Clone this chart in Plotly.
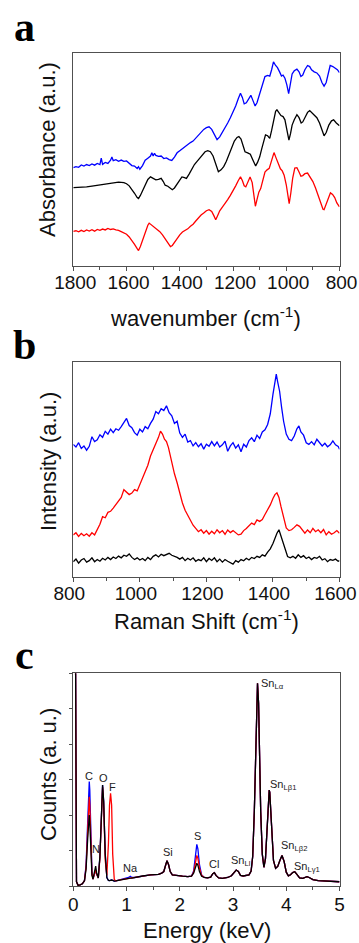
import plotly.graph_objects as go

W, H = 359, 943

# ---------------- Panel a : FTIR ----------------
a_blue_x = [1800,1790,1780,1770,1760,1750,1740,1730,1720,1710,1700,1695,1690,1680,1670,1660,1655,1650,1640,1630,1620,1610,1600,1590,1580,1570,1560,1555,1550,1540,1530,1520,1510,1505,1500,1495,1490,1480,1470,1460,1450,1440,1430,1420,1410,1400,1390,1380,1370,1360,1350,1340,1330,1320,1310,1300,1290,1280,1270,1260,1250,1240,1230,1220,1210,1200,1190,1180,1172,1165,1158,1150,1140,1133,1125,1117,1110,1100,1090,1080,1070,1062,1055,1048,1040,1033,1025,1018,1012,1005,998,991,985,978,970,960,952,945,938,930,920,912,905,895,885,875,866,858,850,842,835,825,815,808,800]
a_blue_y = [46.0,46.5,46.2,47.3,46.8,47.5,47.0,47.8,47.2,48.0,47.5,50.5,47.6,48.5,48.0,49.5,51.0,49.3,49.8,49.0,49.6,49.0,49.2,48.0,47.0,46.8,45.6,46.5,45.3,47.0,49.5,50.5,51.5,53.0,51.5,52.8,51.8,51.3,51.5,50.3,50.6,49.8,49.4,51.0,53.0,54.0,55.0,56.0,57.0,57.8,58.5,60.0,61.5,63.0,64.0,64.8,65.2,64.0,61.5,59.2,60.5,62.5,64.5,67.0,69.5,72.0,75.0,78.5,81.0,79.0,76.0,76.5,79.0,80.0,77.5,75.0,76.5,80.5,85.0,88.8,89.3,89.0,92.0,95.7,94.0,93.0,91.0,89.0,89.5,88.0,85.0,80.8,85.0,90.0,91.5,92.3,91.0,88.8,89.5,92.0,94.0,93.5,92.0,91.0,90.5,89.0,86.0,84.3,86.0,90.5,94.0,93.5,92.5,92.0,90.6]

a_black_x = [1800,1780,1760,1750,1730,1710,1690,1670,1650,1630,1610,1600,1590,1580,1570,1560,1555,1548,1540,1530,1520,1510,1500,1490,1480,1470,1462,1455,1445,1435,1428,1420,1410,1400,1392,1385,1375,1365,1355,1345,1335,1320,1305,1295,1285,1275,1268,1260,1255,1245,1235,1225,1215,1205,1195,1185,1178,1170,1162,1155,1145,1135,1125,1115,1108,1100,1092,1085,1078,1070,1062,1055,1048,1040,1035,1028,1020,1012,1005,998,990,984,978,970,960,952,944,938,930,920,912,905,895,885,875,866,858,850,840,830,822,812,800]
a_black_y = [36.7,36.8,36.6,37.0,37.4,37.8,38.3,38.6,39.0,39.2,39.0,38.5,37.5,36.0,34.0,32.0,31.5,33.0,35.0,38.0,40.5,41.7,41.0,40.3,40.5,41.0,39.5,37.8,37.3,36.2,35.7,36.5,38.5,40.5,41.7,41.5,41.0,43.0,45.5,47.5,49.0,51.5,53.5,54.0,53.5,51.5,48.5,45.0,44.1,45.0,46.5,49.0,52.5,56.0,58.5,60.2,60.6,59.5,56.5,53.5,53.0,52.3,49.5,46.8,48.5,51.0,55.0,59.0,61.4,61.0,59.8,63.5,68.0,72.5,73.2,72.0,70.5,70.0,68.5,64.0,59.0,62.0,66.0,68.5,70.9,69.5,67.0,67.5,69.5,72.0,72.8,72.0,70.5,69.5,67.0,63.5,61.0,62.5,66.0,68.0,68.5,67.0,65.7]

a_red_x = [1800,1790,1780,1770,1760,1750,1740,1730,1720,1710,1700,1690,1680,1670,1660,1650,1640,1630,1620,1610,1600,1590,1580,1570,1560,1555,1548,1540,1530,1520,1515,1505,1495,1485,1475,1465,1455,1445,1435,1428,1420,1410,1400,1390,1380,1370,1360,1350,1340,1330,1320,1310,1300,1290,1280,1272,1265,1258,1250,1240,1230,1220,1210,1200,1190,1180,1172,1165,1158,1152,1145,1136,1128,1122,1116,1110,1103,1096,1088,1080,1072,1064,1056,1046,1038,1030,1022,1015,1008,1000,994,989,983,976,968,960,952,945,938,930,920,912,900,890,880,870,862,858,850,842,834,826,818,810,800]
a_red_y = [16.1,16.4,15.9,16.6,16.0,16.8,16.3,16.9,16.2,17.0,16.6,17.2,16.8,17.5,17.0,17.3,16.8,16.6,16.0,15.5,14.8,13.5,12.0,10.0,8.0,7.1,9.0,12.0,15.5,19.0,20.0,19.0,17.8,17.0,16.0,14.5,12.5,11.0,9.0,9.5,11.0,13.0,14.5,15.8,16.5,17.3,18.5,19.5,21.0,22.5,23.8,24.7,25.8,26.3,25.5,23.5,21.6,23.5,25.8,27.5,29.0,31.0,33.0,35.0,37.5,40.0,41.7,40.0,37.5,37.0,39.5,41.7,39.0,33.0,27.9,31.0,34.5,36.2,40.5,44.0,45.0,45.7,49.0,53.1,50.5,48.0,45.5,44.5,42.5,38.0,32.0,29.1,34.0,41.0,45.8,46.0,44.0,42.0,42.3,43.2,43.5,42.0,39.5,36.5,33.0,29.5,26.5,26.3,29.0,32.0,34.2,33.5,32.0,29.5,27.6]

# ---------------- Panel b : Raman ----------------
b_x = [800,808,816,824,832,840,848,856,864,872,880,888,896,904,912,920,928,936,944,952,960,968,976,984,992,1000,1008,1016,1024,1032,1040,1048,1056,1064,1072,1080,1088,1096,1104,1112,1120,1128,1136,1144,1152,1160,1168,1176,1184,1192,1200,1208,1216,1224,1232,1240,1248,1256,1264,1272,1280,1288,1296,1304,1312,1320,1328,1336,1344,1352,1360,1368,1376,1384,1392,1400,1406,1410,1414,1420,1426,1432,1440,1448,1456,1464,1472,1478,1484,1492,1500,1508,1516,1524,1532,1540,1548,1556,1564,1572,1580,1588,1596,1600]
b_blue = [61.7,60.5,62.5,59.8,61.0,59.0,60.8,65.3,63.0,63.8,66.2,65.0,67.8,66.5,68.8,67.2,69.0,68.3,70.0,72.0,73.8,70.5,69.5,67.2,66.0,68.8,67.5,70.0,69.0,71.5,73.5,77.0,76.0,78.4,77.5,79.7,76.5,75.0,71.5,72.5,67.0,65.0,66.5,62.8,63.5,61.0,62.5,60.6,62.0,59.5,61.8,60.8,63.0,61.0,62.8,60.5,61.5,63.2,58.5,61.0,62.5,60.0,61.5,58.3,61.8,60.5,63.5,64.8,63.0,66.0,64.5,67.5,68.5,71.0,76.0,85.0,90.5,94.5,91.0,86.5,79.0,72.5,66.5,64.1,63.5,65.6,69.0,70.3,67.5,66.0,62.5,61.7,63.0,61.5,64.1,62.5,61.0,62.2,60.6,61.5,63.3,61.5,60.8,59.4]

b_red_x = [800,808,816,824,832,840,848,856,864,872,880,888,896,904,912,920,928,936,944,952,960,968,976,984,992,1000,1008,1016,1024,1032,1040,1048,1056,1062,1068,1074,1080,1086,1092,1098,1104,1112,1120,1128,1136,1144,1152,1160,1168,1176,1184,1192,1200,1208,1216,1224,1232,1240,1248,1256,1264,1272,1280,1288,1296,1304,1312,1320,1328,1336,1344,1352,1360,1368,1376,1384,1392,1400,1406,1412,1418,1424,1432,1440,1448,1456,1464,1472,1480,1488,1496,1504,1512,1520,1528,1536,1544,1552,1560,1568,1576,1584,1592,1600]
b_red = [19.5,20.5,18.8,20.2,19.1,20.0,18.9,20.5,19.5,22.0,24.5,28.0,27.5,30.0,30.5,32.0,33.5,35.2,37.0,40.6,39.5,38.3,39.0,40.6,40.0,43.0,46.0,49.5,52.0,56.3,59.0,62.5,65.0,67.9,66.5,64.1,63.0,60.2,56.0,52.5,48.0,43.8,38.5,34.4,31.0,28.5,26.0,24.0,22.5,21.0,21.9,20.3,21.5,19.8,21.2,20.0,21.9,20.5,21.5,19.8,21.8,20.6,21.5,20.3,19.5,19.8,21.5,22.5,24.0,25.0,24.3,26.5,25.8,26.6,29.0,31.0,33.5,36.5,38.3,39.1,37.0,32.8,27.0,22.7,21.5,21.9,23.0,24.2,23.5,22.0,20.3,21.8,20.5,22.5,21.0,21.9,20.5,22.0,19.5,21.0,19.8,20.5,21.5,20.3]

b_black_x = [800,808,816,824,832,840,848,856,864,872,880,888,896,904,912,920,928,936,944,952,960,968,976,984,992,1000,1008,1016,1024,1032,1040,1048,1056,1064,1072,1080,1088,1096,1104,1112,1120,1128,1136,1144,1152,1160,1168,1176,1184,1192,1200,1208,1216,1224,1232,1240,1248,1256,1264,1272,1280,1288,1296,1304,1312,1320,1328,1336,1344,1352,1360,1368,1376,1384,1392,1400,1406,1412,1418,1424,1430,1436,1444,1452,1460,1468,1476,1484,1492,1500,1508,1516,1524,1532,1540,1548,1556,1564,1572,1580,1588,1596,1600]
b_black = [7.0,8.2,6.3,7.8,8.5,6.8,7.5,8.8,7.0,8.0,7.2,8.6,7.8,9.0,8.0,9.2,8.5,9.6,8.8,10.0,9.5,10.6,9.0,8.0,8.8,7.8,8.5,7.5,9.0,8.0,9.5,10.2,9.2,10.5,9.8,10.2,10.9,10.0,9.6,9.0,8.2,9.0,7.5,8.6,7.8,8.8,7.2,8.0,7.5,8.8,7.0,8.5,7.6,8.8,7.0,8.2,6.8,8.0,7.2,6.5,5.9,7.5,6.8,8.0,7.4,8.6,7.8,9.0,8.5,9.5,9.0,10.2,9.6,11.5,13.0,15.5,18.0,20.3,21.9,19.0,16.0,12.5,9.4,8.8,9.5,8.6,10.2,9.0,9.8,8.5,9.2,8.0,9.0,8.6,9.5,7.8,8.4,7.0,8.0,7.6,8.2,7.2,7.5]

# ---------------- Panel c : EDS ----------------
c_energy = [0.00,0.035,0.06,0.09,0.13,0.17,0.21,0.24,0.27,0.29,0.30,0.31,0.33,0.35,0.37,0.40,0.42,0.44,0.47,0.50,0.53,0.55,0.57,0.60,0.63,0.66,0.68,0.70,0.72,0.74,0.77,0.80,0.90,1.00,1.04,1.07,1.10,1.15,1.30,1.45,1.60,1.66,1.70,1.73,1.76,1.79,1.82,1.86,1.95,2.05,2.15,2.22,2.26,2.29,2.32,2.34,2.37,2.41,2.46,2.52,2.58,2.62,2.65,2.68,2.73,2.80,2.90,2.97,3.02,3.06,3.10,3.14,3.19,3.25,3.30,3.34,3.37,3.40,3.42,3.44,3.46,3.48,3.50,3.52,3.55,3.58,3.61,3.63,3.65,3.67,3.68,3.69,3.71,3.73,3.76,3.80,3.84,3.88,3.92,3.96,4.00,4.04,4.08,4.12,4.16,4.20,4.25,4.31,4.35,4.39,4.43,4.50,4.60,4.75,4.90,5.00]
c_black = [150,150,2.0,0.3,0.5,1.0,2.5,8.0,22.0,31.0,33.4,30.0,16.0,5.0,3.2,6.5,9.4,6.0,3.8,14.0,38.0,47.5,40.0,15.0,4.0,2.6,2.5,2.7,2.8,2.6,2.3,2.4,3.0,3.4,3.5,3.7,3.7,4.0,4.7,5.2,5.5,6.0,6.8,9.5,11.9,10.0,6.8,5.2,4.8,4.6,4.4,4.6,6.0,8.8,10.7,9.8,6.8,4.6,4.0,3.8,4.2,5.8,6.3,5.0,3.8,3.6,4.0,4.8,6.5,7.5,6.8,5.0,4.7,4.9,5.2,7.0,14.0,35.0,60.0,86.0,95.3,86.0,60.0,35.0,15.0,8.8,13.0,22.0,36.0,44.0,45.1,44.0,36.0,23.0,12.0,8.3,9.2,12.0,14.3,11.5,6.5,4.8,5.3,6.3,6.7,5.5,3.8,3.6,4.0,4.4,4.0,3.0,2.5,2.3,2.1,2.0]
c_blue = [150,150,2.0,0.3,0.5,1.0,2.5,10.0,30.0,45.0,49.1,45.0,24.0,7.0,3.2,5.5,7.5,5.5,3.8,14.0,38.0,47.5,40.0,15.0,4.0,2.6,2.5,2.7,2.8,2.6,2.3,2.4,3.0,3.4,4.0,4.6,4.0,4.0,4.7,5.2,5.5,6.0,6.8,9.5,11.9,10.0,6.8,5.2,4.8,4.6,4.4,4.6,7.0,14.0,19.6,17.5,10.0,5.2,4.0,3.8,4.2,5.8,6.3,5.0,3.8,3.6,4.0,4.8,6.5,7.5,6.8,5.0,4.7,4.9,5.2,7.0,14.0,35.0,60.0,86.0,95.3,86.0,60.0,35.0,15.0,8.8,13.0,22.0,36.0,44.0,45.1,44.0,36.0,23.0,12.0,8.3,9.2,12.0,14.3,11.5,6.5,4.8,5.3,6.3,6.7,5.5,3.8,3.6,4.0,4.4,4.0,3.0,2.5,2.3,2.1,2.0]
c_red = [150,150,2.0,0.3,0.5,1.0,2.5,9.0,26.0,38.0,42.0,38.0,20.0,6.0,3.2,5.5,7.5,5.5,3.8,13.0,37.0,46.5,39.0,12.0,5.0,20.0,38.0,43.6,38.0,15.0,3.0,2.4,3.0,3.4,3.5,3.7,3.7,4.0,4.7,5.2,5.5,6.0,6.8,9.5,11.9,10.0,6.8,5.2,4.8,4.6,4.4,4.6,6.5,11.5,14.4,13.0,8.5,5.0,4.0,3.8,4.2,5.8,6.3,5.0,3.8,3.6,4.0,4.8,6.5,7.5,6.8,5.0,4.7,4.9,5.2,7.0,14.0,35.0,60.0,86.0,95.3,86.0,60.0,35.0,15.0,8.8,13.0,22.0,36.0,44.0,45.1,44.0,36.0,23.0,12.0,8.3,9.2,12.0,14.3,11.5,6.5,4.8,5.3,6.3,6.7,5.5,3.8,3.6,4.0,4.4,4.0,3.0,2.5,2.3,2.1,2.0]

# element labels
c_labels = ["C", "O", "F", "N", "Na", "Si", "S", "Cl",
            "Sn<sub>Ll</sub>", "Sn<sub>Lα</sub>", "Sn<sub>Lβ1</sub>", "Sn<sub>Lβ2</sub>", "Sn<sub>Lγ1</sub>"]
c_label_x = [0.30, 0.5625, 0.738, 0.42, 1.08, 1.77, 2.325, 2.65, 3.15, 3.487, 3.656, 3.856, 4.106]
c_label_y = [51.6, 50.8, 46.7, 17.3, 8.7, 15.8, 23.4, 10.4, 11.8, 95.0, 47.5, 18.6, 9.0]
c_label_anchor = ["center"] * 9 + ["left"] * 4

BLUE, RED, BLACK = "#0000ff", "#ff0000", "#000000"
FRAME = "#505050"
SANS = "Liberation Sans, Arial, sans-serif"
SERIF = "Liberation Serif, Times New Roman, serif"

def px(x):
    return x / W

def py(y):
    return 1 - y / H

xdom = [px(73.3), px(339.5)]
ydom_a = [py(265.7), py(52.7)]
ydom_b = [py(576.7), py(362.3)]
ydom_c = [py(886.0), py(673.3)]

fig = go.Figure()
LW = 1.3

def add(x, y, color, xa, ya):
    fig.add_trace(go.Scatter(x=x, y=y, mode="lines", line=dict(color=color, width=LW),
                             xaxis=xa, yaxis=ya, showlegend=False, hoverinfo="skip"))

add(a_blue_x, a_blue_y, BLUE, "x", "y")
add(a_black_x, a_black_y, BLACK, "x", "y")
add(a_red_x, a_red_y, RED, "x", "y")

add(b_x, b_blue, BLUE, "x2", "y2")
add(b_red_x, b_red, RED, "x2", "y2")
add(b_black_x, b_black, BLACK, "x2", "y2")

add(c_energy, c_blue, BLUE, "x3", "y3")
add(c_energy, c_red, RED, "x3", "y3")
add(c_energy, c_black, BLACK, "x3", "y3")

def xaxis_style(rng, dtick, minor_dtick, domain, anchor, shift, standoff):
    return dict(domain=domain, anchor=anchor, range=rng, dtick=dtick, tick0=0,
                automargin=False, ticklabeloverflow="allow",
                ticklabelshift=shift, ticklabelstandoff=standoff,
                showline=True, linecolor=FRAME, linewidth=1.3, mirror=True,
                ticks="outside", ticklen=4, tickwidth=1.2, tickcolor=FRAME,
                minor=dict(ticks="outside", ticklen=3, tickwidth=1.2, tickcolor=FRAME, dtick=minor_dtick),
                showgrid=False, zeroline=False,
                tickfont=dict(family=SANS, size=19, color="#111111"))

def yaxis_style(domain, anchor, ticks):
    d = dict(domain=domain, anchor=anchor, range=[0, 100], automargin=False,
             showline=True, linecolor=FRAME, linewidth=1.3, mirror=True,
             showgrid=False, zeroline=False, showticklabels=False)
    if ticks:
        d.update(ticks="outside", ticklen=3, tickwidth=1.2, tickcolor=FRAME, tick0=0, dtick=100 / 6)
    else:
        d.update(ticks="")
    return d

fig.update_layout(
    template="none",
    width=W, height=H, margin=dict(l=0, r=0, t=0, b=0, pad=0), autosize=False,
    paper_bgcolor="white", plot_bgcolor="white",
    xaxis=xaxis_style([1800, 800], 200, 100, xdom, "y", -2, -5),
    yaxis=yaxis_style(ydom_a, "x", False),
    xaxis2=xaxis_style([800, 1600], 200, 100, xdom, "y2", -4, -5),
    yaxis2=yaxis_style(ydom_b, "x2", False),
    xaxis3=xaxis_style([0, 5], 1, 0.5, xdom, "y3", 0, -3),
    yaxis3=yaxis_style(ydom_c, "x3", True),
)

ann = []
def text(t, x, y, size, family=SANS, angle=0, color="#111111"):
    ann.append(dict(text=t, x=px(x), y=py(y), xref="paper", yref="paper",
                    xanchor="center", yanchor="middle", showarrow=False,
                    textangle=angle, font=dict(family=family, size=size, color=color)))

# panel letters
text("<b>a</b>", 24.5, 27, 42, SERIF, color="black")
text("<b>b</b>", 24.5, 345, 42, SERIF, color="black")
text("<b>c</b>", 24.5, 655, 42, SERIF, color="black")

# axis titles
text("wavenumber (cm<sup>-1</sup>)", 205, 317, 22)
text("Absorbance (a.u.)", 48, 150, 22, angle=-90)
text("Raman Shift (cm<sup>-1</sup>)", 206, 620, 22)
text("Intensity (a.u.)", 48, 462, 22, angle=-90)
text("Energy (keV)", 207, 930, 22)
text("Counts (a. u.)", 48, 775, 22, angle=-90)

for t, xv, yv, anc in zip(c_labels, c_label_x, c_label_y, c_label_anchor):
    ann.append(dict(text=t, x=xv, y=yv, xref="x3", yref="y3", xanchor=anc, yanchor="middle",
                    showarrow=False, font=dict(family=SANS, size=11, color="#222222")))

fig.update_layout(annotations=ann)
fig.write_html("out.html", config={"displayModeBar": False},
               post_script="document.body.style.margin='0';document.body.style.overflow='hidden';")
